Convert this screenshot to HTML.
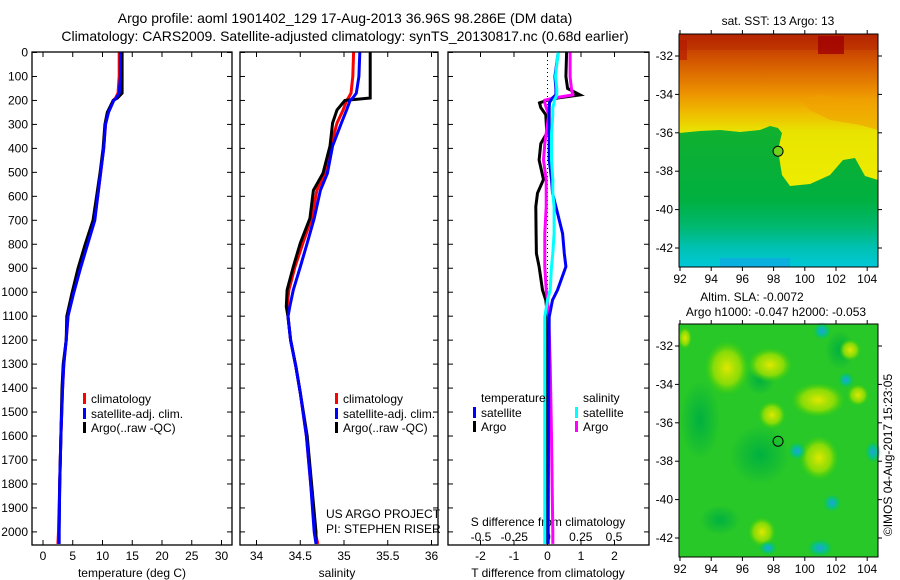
<!DOCTYPE html>
<html><head><meta charset="utf-8"><style>
body{margin:0;background:#fff}
svg{display:block;font-family:"Liberation Sans",sans-serif}
text{fill:#000}
</style></head><body>
<svg id="c" width="900" height="580" viewBox="0 0 900 580" xmlns="http://www.w3.org/2000/svg">
<defs>
<linearGradient id="sstg" x1="0" y1="34" x2="0" y2="267" gradientUnits="userSpaceOnUse">
<stop offset="0" stop-color="#b82800"/><stop offset="0.1" stop-color="#d05000"/><stop offset="0.25" stop-color="#ec9000"/><stop offset="0.33" stop-color="#f0b800"/><stop offset="0.42" stop-color="#e8e400"/><stop offset="0.75" stop-color="#f0f000"/><stop offset="1" stop-color="#e8e000"/>
</linearGradient>
<linearGradient id="greeng" x1="0" y1="133" x2="0" y2="267" gradientUnits="userSpaceOnUse">
<stop offset="0" stop-color="#10b030"/><stop offset="0.5" stop-color="#00b040"/><stop offset="0.7" stop-color="#00b870"/><stop offset="0.85" stop-color="#00c0b0"/><stop offset="1" stop-color="#00c8d8"/>
</linearGradient>
<radialGradient id="blobY"><stop offset="0" stop-color="#e0e800"/><stop offset="0.6" stop-color="#a0e000" stop-opacity="0.8"/><stop offset="1" stop-color="#40d000" stop-opacity="0"/></radialGradient>
<radialGradient id="blobC"><stop offset="0" stop-color="#20a0e0"/><stop offset="0.5" stop-color="#00c0a0" stop-opacity="0.8"/><stop offset="1" stop-color="#00c060" stop-opacity="0"/></radialGradient>
<radialGradient id="blobD"><stop offset="0" stop-color="#00b040"/><stop offset="1" stop-color="#00b040" stop-opacity="0"/></radialGradient>
</defs>
<text x="345" y="23" font-size="14" text-anchor="middle">Argo profile: aoml 1901402_129 17-Aug-2013 36.96S 98.286E (DM data)</text>
<text x="345" y="41" font-size="14" text-anchor="middle">Climatology: CARS2009. Satellite-adjusted climatology: synTS_20130817.nc (0.68d earlier)</text>
<g id="g"></g>
</svg>
<script>
// ---- data ----
const depthTicks = [0,100,200,300,400,500,600,700,800,900,1000,1100,1200,1300,1400,1500,1600,1700,1800,1900,2000];
const tempTicks = [0,5,10,15,20,25,30];
const salTicks = [34,34.5,35,35.5,36];
const salTickLabels = ["34","34.5","35","35.5","36"];
const tdTicks = [-2,-1,0,1,2];
const sdTicks = [-0.5,-0.25,0,0.25,0.5];
const sdTickLabels = ["-0.5","-0.25","0","0.25","0.5"];

const tDepth = [0,100,170,190,200,250,300,400,500,600,700,800,900,1000,1100,1200,1300,1400,1600,1800,2000,2050];
const tClim  = [12.8,12.8,12.6,12.2,11.8,10.9,10.5,10.2,9.7,9.2,8.6,7.4,6.2,5.1,4.2,3.9,3.5,3.3,3.0,2.8,2.6,2.5];
const tSat   = [13.0,13.0,12.8,12.3,11.9,11.0,10.5,10.2,9.7,9.2,8.7,7.5,6.3,5.2,4.2,3.9,3.5,3.3,3.0,2.8,2.7,2.7];
const tArgo  = [13.3,13.3,13.3,12.5,11.8,10.8,10.4,10.1,9.6,9.0,8.4,7.1,5.9,4.9,4.0,3.9,3.4,3.2,3.0,2.8,2.7,2.7];

const sDepth = [0,100,170,190,200,240,294,390,504,575,692,795,894,991,1060,1102,1200,1311,1420,1600,1800,2000,2050];
const sClim  = [35.11,35.10,35.08,35.05,35.03,34.99,34.92,34.85,34.78,34.69,34.63,34.53,34.44,34.37,34.35,34.36,34.39,34.45,34.50,34.57,34.62,34.67,34.70];
const sSat   = [35.18,35.17,35.14,35.10,35.07,35.03,34.97,34.87,34.81,34.73,34.66,34.58,34.50,34.42,34.38,34.36,34.39,34.45,34.50,34.57,34.62,34.66,34.68];
const sArgo  = [35.30,35.30,35.30,35.30,35.01,34.92,34.87,34.84,34.76,34.65,34.61,34.50,34.42,34.35,34.34,34.36,34.39,34.45,34.50,34.58,34.63,34.68,34.68];

const dDepth = [0,100,150,177,190,199,210,230,260,337,380,448,530,587,643,755,838,893,991,1033,1103,1300,1600,2000,2050];
const dT_argo = [0.57,0.55,0.6,0.97,0.3,0.0,-0.24,-0.2,-0.05,-0.02,-0.2,-0.25,-0.12,-0.3,-0.35,-0.34,-0.33,-0.25,-0.15,-0.05,0.0,0.0,0.0,0.0,0.0];
const dT_sat  = [0.32,0.22,0.25,0.25,0.15,0.1,0.06,0.05,0.05,0.05,0.05,0.05,0.12,0.15,0.25,0.45,0.5,0.55,0.3,0.15,0.05,0.04,0.03,0.02,0.02];
const dS_argo = [0.17,0.17,0.18,0.19,0.05,-0.02,-0.02,-0.01,0.01,-0.01,-0.02,-0.03,-0.01,-0.01,-0.01,-0.02,-0.02,-0.02,-0.01,0.0,0.01,0.02,0.03,0.04,0.04];
const dS_sat  = [0.08,0.06,0.07,0.07,0.06,0.05,0.05,0.04,0.04,0.03,0.03,0.03,0.04,0.04,0.05,0.05,0.04,0.03,0.02,0.0,-0.02,-0.02,-0.02,-0.02,-0.02];

const lonTicks = [92,94,96,98,100,102,104];
const latTicks = [-32,-34,-36,-38,-40,-42];
const floatLon = 98.286, floatLat = -36.96;

// ---- axes ----
const NS='http://www.w3.org/2000/svg';
const G=document.getElementById('g');
const yD = d => 52.5 + 0.2397*d;
const xT = t => 43 + 5.95*t;
const xS = s => 256.5 + 87.5*(s-34);
const xTd = v => 547.5 + 33.5*v;
const xSd = v => 547.5 + 133*v;
const xLon = l => 680 + (l-92)*15.6;
const yLat1 = l => 56 + (-32-l)*19.2;
const yLat2 = l => 346 + (-32-l)*19.2;
const TOP=52, BOT=545;
function mk(tag,attrs,parent){const e=document.createElementNS(NS,tag);for(const k in attrs)e.setAttribute(k,attrs[k]);(parent||G).appendChild(e);return e;}
function txt(x,y,s,anchor,size,parent){const e=mk('text',{x:x,y:y,'font-size':size||12,'text-anchor':anchor||'start'},parent);e.textContent=s;return e;}

function panel(name,x0,x1){
  const g=mk('g',{});
  
  
  mk('rect',{x:x0,y:TOP,width:x1-x0,height:BOT-TOP,fill:'none',stroke:'#000','stroke-width':1.3},g);
  depthTicks.forEach(d=>{const y=yD(d);
    mk('line',{x1:x0,x2:x0+5,y1:y,y2:y,stroke:'#000'},g);
    mk('line',{x1:x1-5,x2:x1,y1:y,y2:y,stroke:'#000'},g);});
  return g;
}
function xticks(g,ticks,fx,labels,ly){
  ticks.forEach((t,i)=>{const x=fx(t);
    mk('line',{x1:x,x2:x,y1:BOT,y2:BOT-5,stroke:'#000'},g);
    mk('line',{x1:x,x2:x,y1:TOP,y2:TOP+5,stroke:'#000'},g);
    if(ly) txt(x,ly,labels[i],'middle',12,g);});
}
function line(g,name,depths,vals,fx,color,w){
  const pts=depths.map((d,i)=>fx(vals[i]).toFixed(1)+','+yD(d).toFixed(1)).join(' ');
  const p=mk('polyline',{points:pts,fill:'none',stroke:color,'stroke-width':w||3,'stroke-linejoin':'miter'},g);
  
  
}
function legend(g,x,y,color,label){
  mk('rect',{x:x,y:y-10,width:3,height:11,fill:color},g);
  txt(x+8,y,label,'start',12,g);
}

// Panel 1
const p1=panel('temperature-panel',32,232);
depthTicks.forEach(d=>{txt(28,yD(d)+4,String(d),'end',12,p1);});
xticks(p1,tempTicks,xT,tempTicks.map(String),560);
txt(132,577,'temperature (deg C)','middle',12,p1);
line(p1,'temp-climatology-line',tDepth,tClim,xT,'#ff0000');
line(p1,'temp-argo-line',tDepth,tArgo,xT,'#000000');
line(p1,'temp-satellite-line',tDepth,tSat,xT,'#0000ff');
legend(p1,83,403,'#ff0000','climatology');
legend(p1,83,418,'#0000ff','satellite-adj. clim.');
legend(p1,83,432,'#000000','Argo(..raw -QC)');

// Panel 2
const p2=panel('salinity-panel',240,438);
xticks(p2,salTicks,xS,salTickLabels,560);
txt(337,577,'salinity','middle',12,p2);
line(p2,'sal-climatology-line',sDepth,sClim,xS,'#ff0000');
line(p2,'sal-argo-line',sDepth,sArgo,xS,'#000000');
line(p2,'sal-satellite-line',sDepth,sSat,xS,'#0000ff');
legend(p2,335,403,'#ff0000','climatology');
legend(p2,335,418,'#0000ff','satellite-adj. clim.');
legend(p2,335,432,'#000000','Argo(..raw -QC)');
txt(326,518,'US ARGO PROJECT','start',12,p2);
txt(326,533,'PI: STEPHEN RISER','start',12,p2);

// Panel 3
const p3=panel('difference-panel',448,649);
tdTicks.forEach(t=>{const x=xTd(t);
  mk('line',{x1:x,x2:x,y1:BOT,y2:BOT-5,stroke:'#000'},p3);
  mk('line',{x1:x,x2:x,y1:TOP,y2:TOP+5,stroke:'#000'},p3);
  txt(x,560,String(t),'middle',12,p3);});
sdTicks.forEach((t,i)=>txt(xSd(t),541,sdTickLabels[i],'middle',12,p3));
txt(548,526,'S difference from climatology','middle',12,p3);
txt(548,577,'T difference from climatology','middle',12,p3);
mk('line',{x1:547.5,x2:547.5,y1:TOP,y2:BOT,stroke:'#000','stroke-dasharray':'1,3'},p3);
line(p3,'t-diff-argo-line',dDepth,dT_argo,xTd,'#000000');
line(p3,'s-diff-argo-line',dDepth,dS_argo,xSd,'#ff00ff');
line(p3,'t-diff-satellite-line',dDepth,dT_sat,xTd,'#0000ff');
line(p3,'s-diff-satellite-line',dDepth,dS_sat,xSd,'#00ffff');
txt(481,402,'temperature','start',12,p3);
txt(583,402,'salinity','start',12,p3);
legend(p3,473,417,'#0000ff','satellite');
legend(p3,473,431,'#000000','Argo');
legend(p3,575,417,'#00ffff','satellite');
legend(p3,575,431,'#ff00ff','Argo');

// Maps
function mapFrame(name){
  const g=mk('g',{});
  
  
  return g;
}
function mapAxes(g,y0,y1,fLat,ly){
  mk('rect',{x:679,y:y0,width:199,height:y1-y0,fill:'none',stroke:'#000','stroke-width':1},g);
  lonTicks.forEach(l=>{const x=xLon(l);
    mk('line',{x1:x,x2:x,y1:y1,y2:y1+4,stroke:'#000'},g);
    mk('line',{x1:x,x2:x,y1:y0,y2:y0-4,stroke:'#000'},g);
    txt(x,ly,String(l),'middle',12,g);});
  latTicks.forEach(l=>{const y=fLat(l);
    mk('line',{x1:675,x2:679,y1:y,y2:y,stroke:'#000'},g);
    mk('line',{x1:878,x2:882,y1:y,y2:y,stroke:'#000'},g);
    txt(673,y+4,String(l),'end',12,g);});
}
// SST map
const m1=mapFrame('sst-map');
mk('rect',{x:679,y:34,width:199,height:233,fill:'url(#sstg)'},m1);
mk('rect',{x:679,y:34,width:199,height:16,fill:'#b02000',opacity:0.35},m1);
mk('rect',{x:818,y:36,width:26,height:18,fill:'#a00000',opacity:0.8},m1);
mk('rect',{x:679,y:40,width:8,height:20,fill:'#b01800',opacity:0.6},m1);
mk('polygon',{points:'800,100 820,95 850,100 878,98 878,130 860,125 830,120 810,110',fill:'#f0a000',opacity:0.6},m1);
mk('polygon',{points:'679,133 700,131 720,130 740,132 760,130 770,126 778,128 782,133 778,150 782,175 790,186 810,184 830,175 843,160 855,158 865,176 878,180 878,267 679,267',fill:'url(#greeng)'},m1);
mk('rect',{x:720,y:258,width:70,height:9,fill:'#10a0e8',opacity:0.6},m1);
const c1=mk('circle',{cx:xLon(floatLon),cy:yLat1(floatLat),r:5,fill:'#70d020',stroke:'#000','stroke-width':1},m1);


mapAxes(m1,34,267,yLat1,283);
txt(778,25,'sat. SST: 13 Argo: 13','middle',12,m1);

// SLA map
const m2=mapFrame('sla-map');
mk('rect',{x:679,y:324,width:199,height:233,fill:'#28c828'},m2);
[[760,455,60,60],[700,420,40,80],[840,350,30,40],[720,520,40,30],[760,380,30,30]].forEach(b=>mk('ellipse',{cx:b[0],cy:b[1],rx:b[2]/2,ry:b[3]/2,fill:'url(#blobD)'},m2));
[[818,400,55,35],[772,415,28,28],[762,532,28,30],[770,365,45,35],[727,368,45,55],[850,350,22,22],[819,458,40,45],[685,338,14,22],[858,395,22,22]].forEach(b=>mk('ellipse',{cx:b[0],cy:b[1],rx:b[2]/2,ry:b[3]/2,fill:'url(#blobY)'},m2));
[[822,331,18,18],[797,451,18,18],[832,503,18,18],[873,452,16,22],[820,548,26,18],[846,380,16,16],[768,548,18,14]].forEach(b=>mk('ellipse',{cx:b[0],cy:b[1],rx:b[2]/2,ry:b[3]/2,fill:'url(#blobC)'},m2));
const c2=mk('circle',{cx:xLon(floatLon),cy:yLat2(floatLat),r:5,fill:'none',stroke:'#000','stroke-width':1},m2);


mapAxes(m2,324,557,yLat2,573);
txt(752,301,'Altim. SLA: -0.0072','middle',12,m2);
txt(776,316,'Argo h1000: -0.047 h2000: -0.053','middle',12,m2);
const cr=txt(0,0,'©IMOS 04-Aug-2017 15:23:05','middle',12,G);
cr.setAttribute('transform','translate(892,455) rotate(-90)');


</script>
</body></html>
